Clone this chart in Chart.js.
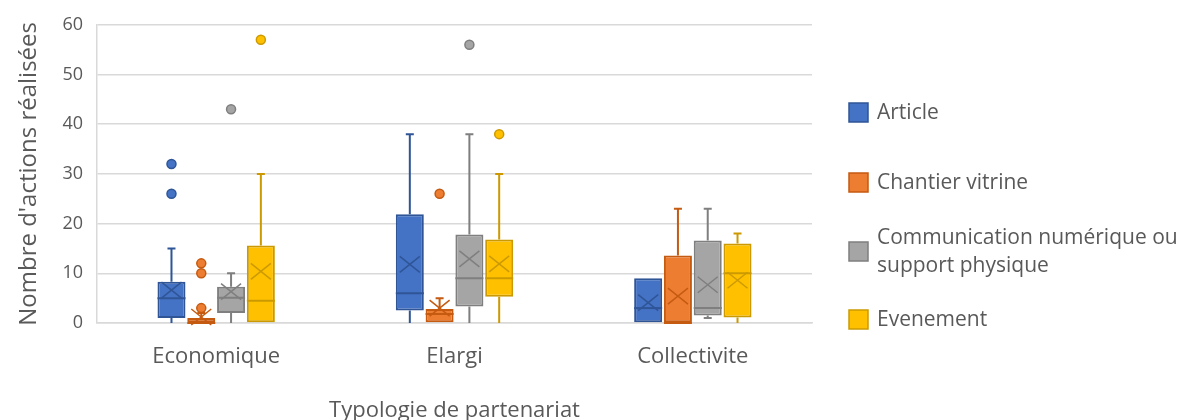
<!DOCTYPE html>
<html>
<head>
<meta charset="utf-8">
<script src="https://cdn.jsdelivr.net/npm/chart.js@4.4.0/dist/chart.umd.min.js"></script>
<style>
html, body { margin: 0; padding: 0; background: #fff; }
#wrap { width: 1177px; height: 420px; }
</style>
</head>
<body>
<div id="wrap"><canvas id="c"></canvas></div>
<script>
const categories = ["Economique", "Elargi", "Collectivite"];
const seriesNames = ["Article", "Chantier vitrine", ["Communication numérique ou", "support physique"], "Evenement"];

// [min, q1, median, q3, max] for each category
const articleBox = [[0, 1, 5, 8.3, 15], [0, 2.5, 6, 21.9, 38], [0, 0, 3, 9, 9]];
const articleMean = [6.6, 11.8, 4.1];
const articleOut = [[26, 32], [], []];

const chantierBox = [[0, 0, 0, 1, 2], [0, 0, 1.8, 2.8, 5], [0, 0, 0, 13.6, 23]];
const chantierMean = [1.2, 3, 5.4];
const chantierOut = [[3, 10, 12], [26], []];

const commBox = [[0, 2, 5.1, 7.3, 10], [0, 3.3, 9, 17.8, 38], [1, 1.5, 3, 16.6, 23]];
const commMean = [6.3, 12.9, 7.7];
const commOut = [[43], [56], []];

const eventBox = [[0, 0, 4.5, 15.6, 30], [0, 5.3, 9, 16.8, 30], [0, 1.1, 10, 16, 18]];
const eventMean = [10.4, 11.9, 8.6];
const eventOut = [[57], [38], []];

const yTicks = [0, 10, 20, 30, 40, 50, 60];

const fills = ['#4472C4', '#ED7D31', '#A5A5A5', '#FFC000'];
const edges = ['#2F5597', '#C55A11', '#7F7F7F', '#CC9A00'];
const textColor = '#595959';
const gridColor = '#D9D9D9';

Chart.defaults.font.family = "'Open Sans', sans-serif";

const boxes = [articleBox, chantierBox, commBox, eventBox];
const means = [articleMean, chantierMean, commMean, eventMean];
const outs = [articleOut, chantierOut, commOut, eventOut];

const datasets = [];
for (let i = 0; i < 4; i++) {
    datasets.push({
        label: Array.isArray(seriesNames[i]) ? seriesNames[i].join(' ') : seriesNames[i],
        data: boxes[i].map(b => [b[1], b[3]]),
        box: boxes[i],
        mean: means[i],
        out: outs[i],
        backgroundColor: fills[i],
        borderColor: edges[i],
        borderWidth: 2,
        borderSkipped: false,
        categoryPercentage: 0.5,
        barPercentage: 0.94
    });
}

// whiskers, medians, means and outliers on top of the boxes
const boxExtras = {
    id: 'boxExtras',
    afterDatasetsDraw(chart) {
        const ctx = chart.ctx;
        const y = chart.scales.y;
        ctx.save();
        chart.data.datasets.forEach((ds, i) => {
            const meta = chart.getDatasetMeta(i);
            meta.data.forEach((bar, j) => {
                const b = ds.box[j];
                const x = bar.x;
                const w = bar.width;
                const cap = 4;
                ctx.strokeStyle = ds.borderColor;
                ctx.lineWidth = 2;
                ctx.beginPath();
                if (b[4] > b[3]) {
                    ctx.moveTo(x, y.getPixelForValue(b[3]));
                    ctx.lineTo(x, y.getPixelForValue(b[4]));
                    ctx.moveTo(x - cap, y.getPixelForValue(b[4]));
                    ctx.lineTo(x + cap, y.getPixelForValue(b[4]));
                }
                if (b[0] < b[1]) {
                    ctx.moveTo(x, y.getPixelForValue(b[1]));
                    ctx.lineTo(x, y.getPixelForValue(b[0]));
                    if (b[0] > 0) {
                        ctx.moveTo(x - cap, y.getPixelForValue(b[0]));
                        ctx.lineTo(x + cap, y.getPixelForValue(b[0]));
                    }
                }
                ctx.moveTo(x - w / 2, y.getPixelForValue(b[2]));
                ctx.lineTo(x + w / 2, y.getPixelForValue(b[2]));
                ctx.stroke();

                // mean marker
                const my = y.getPixelForValue(ds.mean[j]);
                ctx.lineWidth = 1.5;
                ctx.beginPath();
                ctx.moveTo(x - 10, my - 8);
                ctx.lineTo(x + 10, my + 8);
                ctx.moveTo(x - 10, my + 8);
                ctx.lineTo(x + 10, my - 8);
                ctx.stroke();

                // outliers
                ctx.fillStyle = ds.backgroundColor;
                ds.out[j].forEach(v => {
                    ctx.beginPath();
                    ctx.arc(x, y.getPixelForValue(v), 4.5, 0, Math.PI * 2);
                    ctx.fill();
                    ctx.stroke();
                });
            });
        });
        ctx.restore();
    }
};

const sideLegend = {
    id: 'sideLegend',
    afterDraw(chart) {
        const ctx = chart.ctx;
        const rowY = [113, 183, 252, 320];
        ctx.save();
        ctx.font = "21px 'Open Sans', sans-serif";
        ctx.textBaseline = 'middle';
        chart.data.datasets.forEach((ds, i) => {
            ctx.fillStyle = ds.backgroundColor;
            ctx.strokeStyle = ds.borderColor;
            ctx.lineWidth = 1.5;
            ctx.fillRect(849, rowY[i] - 10, 19, 19);
            ctx.strokeRect(849, rowY[i] - 10, 19, 19);
            ctx.fillStyle = textColor;
            const name = seriesNames[i];
            if (Array.isArray(name)) {
                ctx.fillText(name[0], 877, rowY[i] - 14);
                ctx.fillText(name[1], 877, rowY[i] + 14);
            } else {
                ctx.fillText(name, 877, rowY[i]);
            }
        });
        ctx.restore();
    }
};

new Chart(document.getElementById('c'), {
    type: 'bar',
    data: { labels: categories, datasets: datasets },
    options: {
        responsive: true,
        maintainAspectRatio: false,
        animation: false,
        layout: { padding: { top: 22, right: 365, bottom: 0, left: 0 } },
        plugins: {
            legend: { display: false },
            tooltip: { enabled: false }
        },
        scales: {
            x: {
                grid: { display: false, drawTicks: false },
                border: { display: true, color: gridColor, width: 1.5 },
                ticks: { color: textColor, font: { size: 22 }, padding: 21 },
                title: {
                    display: true,
                    text: 'Typologie de partenariat',
                    color: textColor,
                    font: { size: 22 },
                    padding: { top: 0, bottom: -4 }
                },
                afterFit(scale) { scale.height = 97; }
            },
            y: {
                min: 0,
                max: 60,
                afterBuildTicks(scale) { scale.ticks = yTicks.map(v => ({ value: v })); },
                grid: { color: gridColor, lineWidth: 1.5, drawTicks: false },
                border: { display: true, color: gridColor, width: 1.5 },
                ticks: { color: textColor, font: { size: 18 }, padding: 14 },
                title: {
                    display: true,
                    text: "Nombre d'actions réalisées",
                    color: textColor,
                    font: { size: 24 },
                    padding: { top: 15, bottom: 0 }
                },
                afterFit(scale) { scale.width = 97; }
            }
        }
    },
    plugins: [boxExtras, sideLegend]
});
</script>
</body>
</html>
